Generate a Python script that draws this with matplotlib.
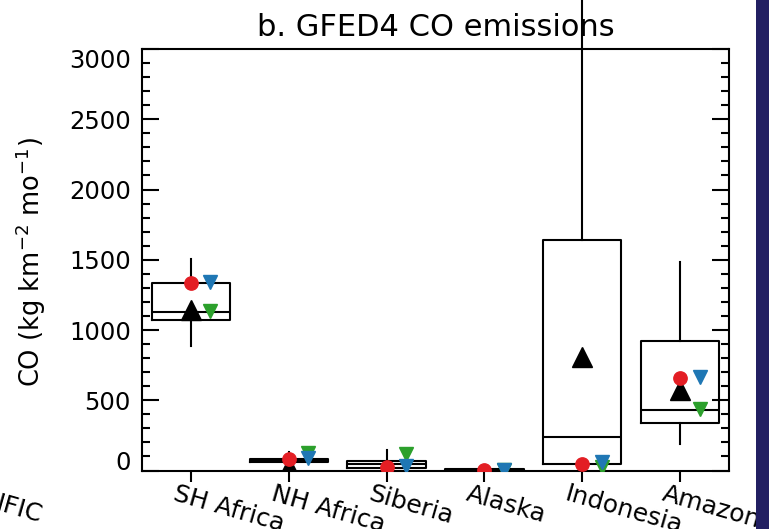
import numpy as np
import matplotlib
matplotlib.use("Agg")
import matplotlib.pyplot as plt
from matplotlib.ticker import MultipleLocator
from matplotlib.transforms import ScaledTranslation
from matplotlib.patches import Rectangle

# ---- data ----
categories = ["SH Africa", "NH Africa", "Siberia", "Alaska", "Indonesia", "Amazon"]
whisker_low = [886, 40, 0, 0, 5, 189]
box_q1 = [1069, 58, 18, 0, 46, 338]
box_median = [1130, 69, 45, 4, 238, 431]
box_q3 = [1337, 80, 70, 8, 1640, 924]
whisker_high = [1505, 130, 146, 10, 3700, 1486]

mean_black = [1142, 27, np.nan, np.nan, 806, 573]
red_circle = [1337, 82, 25, 2, 46, 661]
green_tri = [1137, 125, 115, 3, 27, 436]
blue_tri = [1344, 87, 34, 3, 63, 668]

yticks = [0, 500, 1000, 1500, 2000, 2500, 3000]

W, H = 769, 529
fig = plt.figure(figsize=(W / 100, H / 100), dpi=100)
ax = fig.add_axes([142 / W, (H - 470.5) / H, 587 / W, 421.5 / H])

positions = np.arange(1, len(categories) + 1)
stats = []
for i, name in enumerate(categories):
    stats.append(dict(label=name, whislo=whisker_low[i], q1=box_q1[i],
                      med=box_median[i], q3=box_q3[i], whishi=whisker_high[i]))

art = ax.bxp(stats, positions=positions, widths=0.8, showcaps=False,
             showfliers=False, patch_artist=False,
             boxprops=dict(color="black", linewidth=1.5),
             medianprops=dict(color="black", linewidth=1.5),
             whiskerprops=dict(color="black", linewidth=1.5))
for w in art["whiskers"]:
    w.set_clip_on(False)

off = 0.2
ax.plot(positions, mean_black, linestyle="none", marker="^", color="black",
        markersize=14, zorder=4)
ax.plot(positions, red_circle, linestyle="none", marker="o", color="#e31e24",
        markersize=9.6, zorder=5)
ax.plot(positions + off, green_tri, linestyle="none", marker="v", color="#2ca02c",
        markersize=9.4, zorder=5)
ax.plot(positions + off, blue_tri, linestyle="none", marker="v", color="#1f77b4",
        markersize=9.4, zorder=6)

ax.set_xlim(0.5, 6.5)
ax.set_ylim(0, 3000)

for s in ax.spines.values():
    s.set_linewidth(1.5)

ax.set_yticks(yticks)
ax.yaxis.set_minor_locator(MultipleLocator(100))
ax.tick_params(axis="y", which="major", direction="in", length=12, width=1.5,
               left=True, right=True, labelsize=17.5, pad=8)
ax.tick_params(axis="y", which="minor", direction="in", length=6, width=1.5,
               left=True, right=True)
ax.set_xticks(positions)
ax.set_xticklabels(categories)
ax.tick_params(axis="x", which="major", direction="out", length=8, width=1.5,
               top=False, labelsize=18, pad=0)
ax.tick_params(axis="x", which="minor", bottom=False, top=False)

ylabs = ax.get_yticklabels()
ylabs[0].set_va("baseline")
ylabs[-1].set_va("top")

shift = ScaledTranslation(-14 / 100, 0, fig.dpi_scale_trans)
for lab in ax.get_xticklabels():
    lab.set_rotation(-16)
    lab.set_ha("left")
    lab.set_va("top")
    lab.set_rotation_mode("anchor")
    lab.set_transform(lab.get_transform() + shift)

ax.set_title("b. GFED4 CO emissions", fontsize=22, pad=9)
fig.text(31 / W, 1 - 262 / H, "CO (kg km$^{-2}$ mo$^{-1}$)", rotation=90,
         ha="center", va="center", fontsize=18.5)

fig.text(0 / W, 1 - 492 / H, "IFIC", rotation=-16, ha="left", va="top",
         rotation_mode="anchor", fontsize=18)

fig.patches.append(Rectangle((756 / W, 0), 1, 1, transform=fig.transFigure,
                             facecolor="#221f62", edgecolor="none", zorder=10))

fig.savefig("out.png", dpi=100)
